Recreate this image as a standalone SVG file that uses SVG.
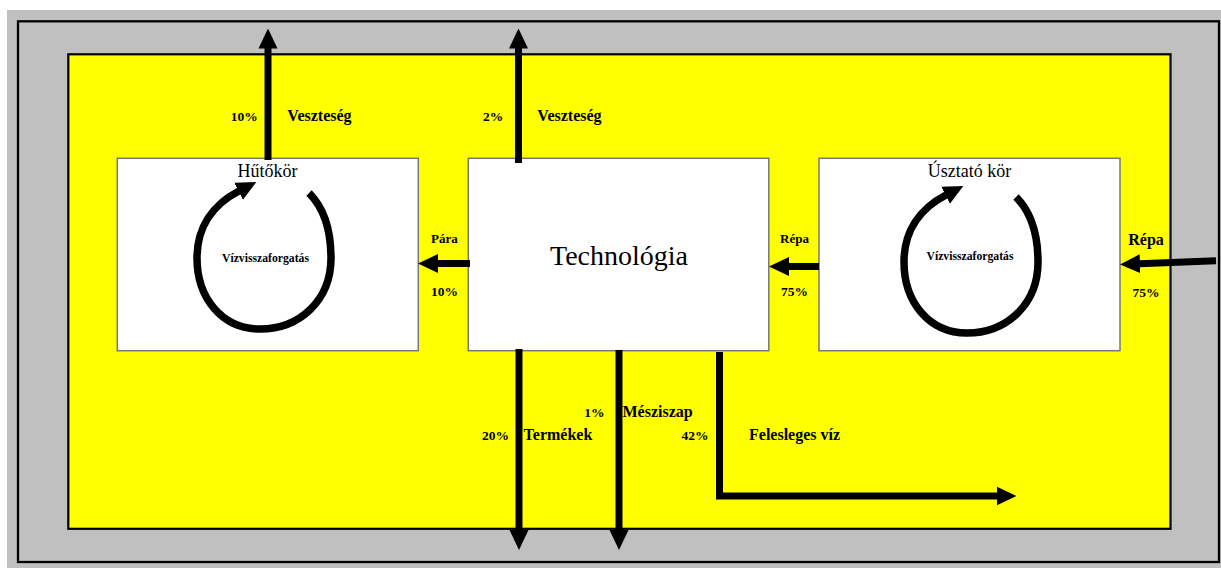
<svg xmlns="http://www.w3.org/2000/svg" width="1221" height="568" viewBox="0 0 1221 568">
  <style>
    .box { fill: #ffffff; stroke: #777777; stroke-width: 1.5; }
    .flow { fill: none; stroke: #000000; stroke-width: 7; marker-end: url(#head); }
    .loop { fill: none; stroke: #000000; stroke-width: 7.5; marker-end: url(#head); }
    .title { font-family: "Liberation Serif", "Times New Roman", serif; fill: #000000; }
    .lbl { font-family: "Liberation Serif", "Times New Roman", serif; font-weight: bold; fill: #000000; }
    .pct { font-size: 13.5px; }
    .word { font-size: 16px; }
  </style>
  <defs>
    <marker id="head" viewBox="0 0 20 20" refX="0.5" refY="10" markerWidth="20" markerHeight="20" markerUnits="userSpaceOnUse" orient="auto">
      <path d="M0,0.5 L20,10 L0,19.5 Z" fill="#000000"/>
    </marker>
    <path id="recirc" d="M309 193 C 322 206, 331 226, 331 258 C 331 300, 300 329, 260 329 C 222 329, 197 298, 197 258 C 197 228, 212 205, 239 191"/>
  </defs>

  <!-- outer frame -->
  <g id="frame">
    <rect x="7" y="10" width="1214" height="558" fill="#c0c0c0"/>
    <rect x="18" y="21.3" width="1201" height="540.7" fill="none" stroke="#000000" stroke-width="2.3"/>
    <rect x="68.3" y="54.3" width="1102.2" height="474.5" fill="#ffff00" stroke="#000000" stroke-width="2.2"/>
  </g>

  <!-- cooling circuit -->
  <g id="hutokor">
    <rect class="box" x="117.3" y="158.3" width="301" height="192.4"/>
    <text class="title" x="267.5" y="176.7" font-size="18" text-anchor="middle">Hűtőkör</text>
    <use href="#recirc" class="loop"/>
    <text class="lbl" x="265.5" y="261.5" font-size="11.7" text-anchor="middle">Vízvisszaforgatás</text>
  </g>

  <!-- technology -->
  <g id="technologia">
    <rect class="box" x="468.3" y="158.3" width="300.5" height="192.4"/>
    <text class="title" x="619" y="265" font-size="28" text-anchor="middle">Technológia</text>
  </g>

  <!-- flume circuit -->
  <g id="usztato">
    <rect class="box" x="819" y="158.3" width="301" height="192.4"/>
    <text class="title" x="969.5" y="176.7" font-size="18" text-anchor="middle">Úsztató kör</text>
    <use href="#recirc" class="loop" transform="translate(707,4)"/>
    <text class="lbl" x="970" y="260" font-size="11.7" text-anchor="middle">Vízvisszaforgatás</text>
  </g>

  <!-- flows between units -->
  <g id="connectors">
    <path class="flow" d="M268 160 V48"/>
    <path class="flow" d="M518.5 163 V48"/>
    <path class="flow" d="M470 263.5 H437.5"/>
    <path class="flow" d="M819 266.5 H788.5"/>
    <path class="flow" d="M1216 260.8 L1139.5 263.8"/>
    <path class="flow" d="M519 349 V530.5"/>
    <path class="flow" d="M619 350 V530.5"/>
    <path class="flow" d="M719.5 352 V496 H997" stroke-linejoin="miter"/>

    <text class="lbl pct" x="230.7" y="120.7">10%</text>
    <text class="lbl word" x="287.3" y="120.7">Veszteség</text>
    <text class="lbl pct" x="483" y="120.7">2%</text>
    <text class="lbl word" x="537.3" y="120.7">Veszteség</text>

    <text class="lbl" x="431" y="242.7" font-size="13">Pára</text>
    <text class="lbl pct" x="431" y="296">10%</text>
    <text class="lbl" x="780" y="243" font-size="13">Répa</text>
    <text class="lbl pct" x="781" y="296">75%</text>
    <text class="lbl word" x="1128.3" y="244.5">Répa</text>
    <text class="lbl pct" x="1132.5" y="296.7">75%</text>

    <text class="lbl pct" x="584.3" y="417.3">1%</text>
    <text class="lbl word" x="622.5" y="417.3">Mésziszap</text>
    <text class="lbl pct" x="482" y="440">20%</text>
    <text class="lbl word" x="523.6" y="440">Termékek</text>
    <text class="lbl pct" x="681.4" y="440">42%</text>
    <text class="lbl word" x="749" y="440">Felesleges víz</text>
  </g>
</svg>
